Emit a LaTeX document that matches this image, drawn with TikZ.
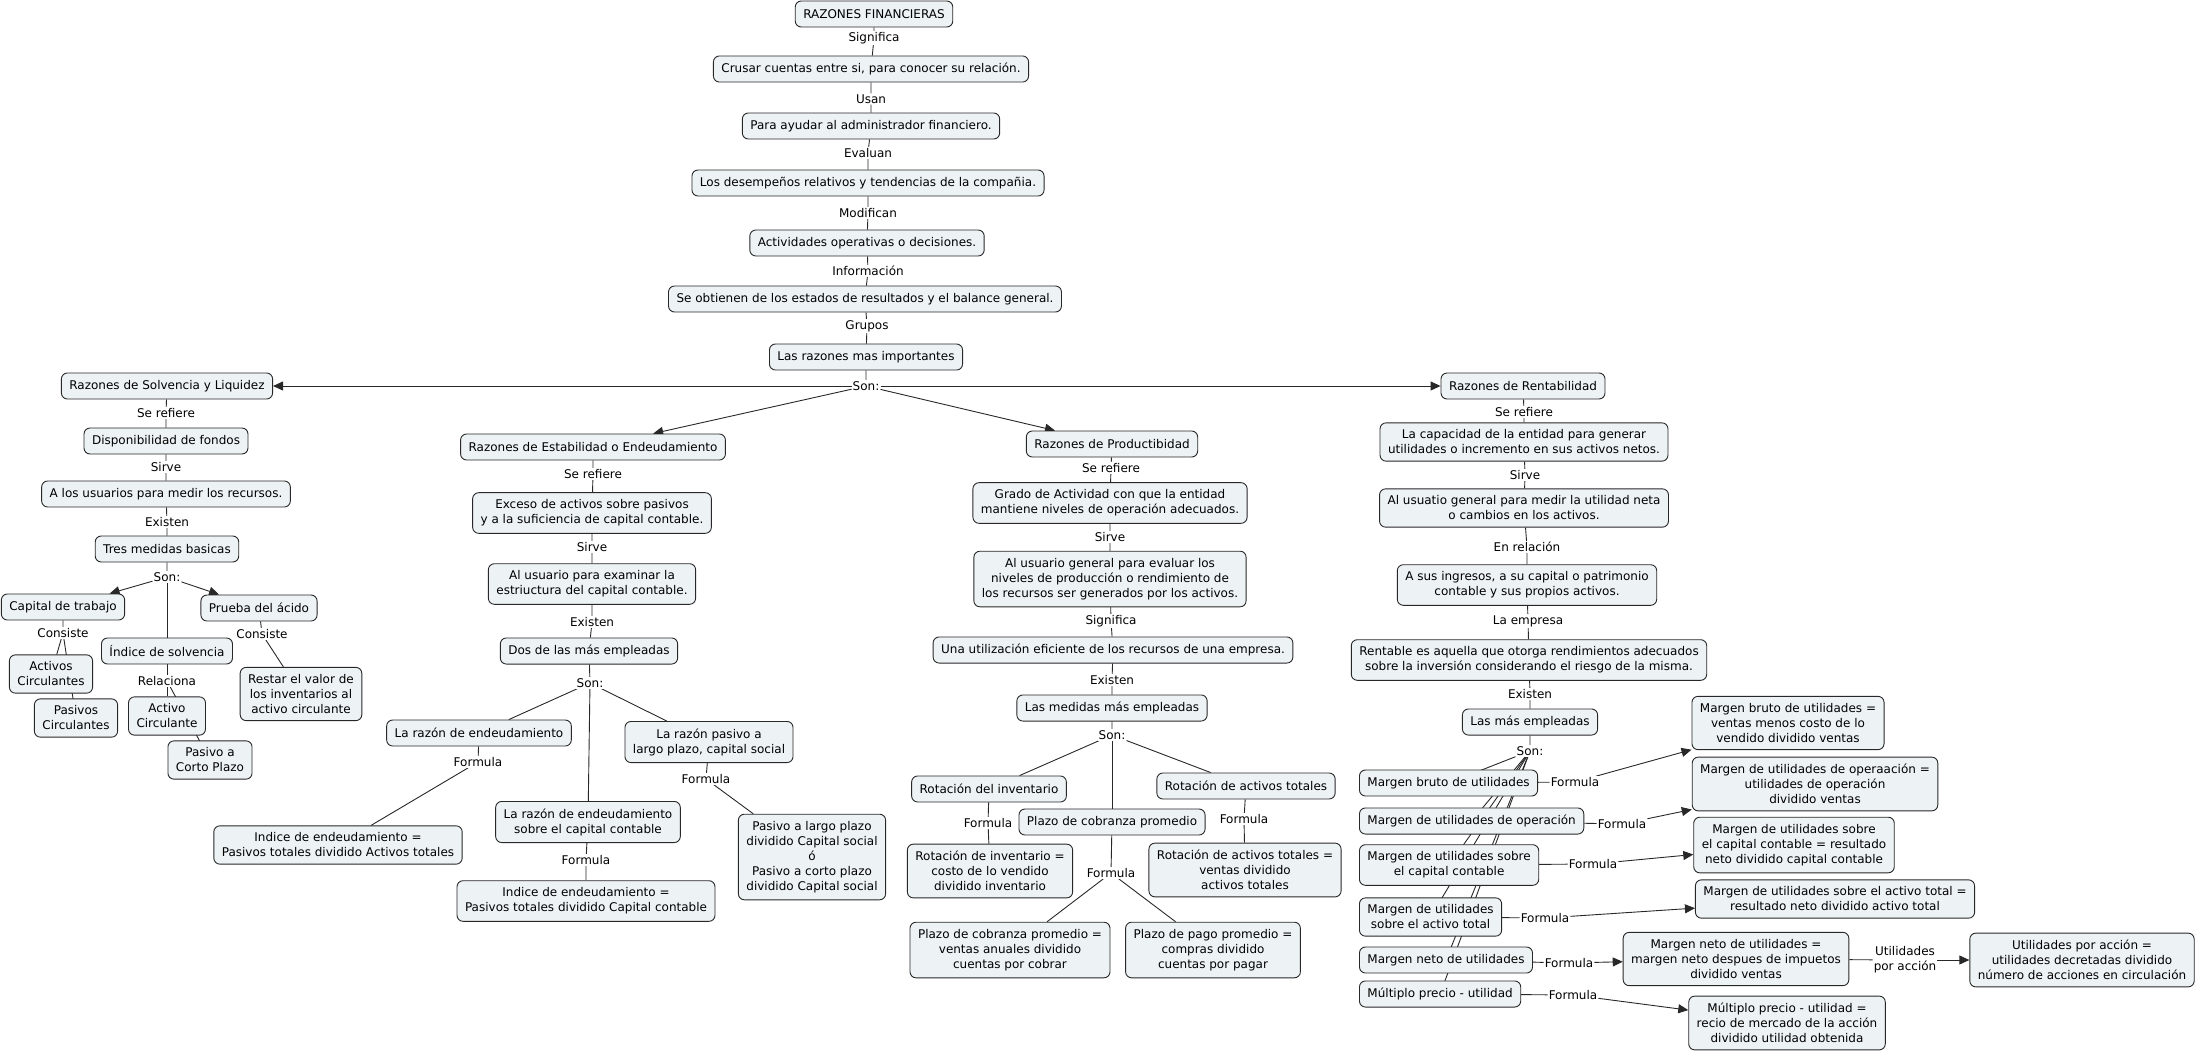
\documentclass[tikz,border=0pt]{standalone}
\usepackage{fontspec}
\setmainfont{DejaVu Sans}
\usepackage{tikz}
\usetikzlibrary{arrows.meta}
\usetikzlibrary{backgrounds}

\definecolor{boxfill}{RGB}{237,242,244}
\definecolor{boxline}{RGB}{40,40,40}
\tikzset{
  concept/.style={draw=boxline, fill=boxfill, rounded corners=6pt, align=center,
    inner xsep=8pt, inner ysep=7pt, minimum height=26pt, line width=0.9pt,
    font=\fontsize{12}{15}\selectfont},
  linkword/.style={fill=white, inner sep=1pt, align=center, font=\fontsize{12}{15}\selectfont},
  link/.style={draw=boxline, line width=0.9pt},
  arr/.style={link, -{Triangle[length=10pt,width=9pt]}}
}

\begin{document}
\begin{tikzpicture}[x=1pt, y=-1pt]
    \useasboundingbox (0,0) rectangle (2198,1052);
    % top
    \node[concept] (rf) at (874,14) {RAZONES FINANCIERAS};
    \node[linkword] (l1) at (874,38) {Significa};
    \node[concept] (n1) at (871,69) {Crusar cuentas entre si, para conocer su relación.};
    \node[linkword] (l2) at (871,99) {Usan};
    \node[concept] (n2) at (871,126) {Para ayudar al administrador financiero.};
    \node[linkword] (l3) at (868,153) {Evaluan};
    \node[concept] (n3) at (868,183) {Los desempeños relativos y tendencias de la compañia.};
    \node[linkword] (l4) at (868,213) {Modifican};
    \node[concept] (n4) at (867,243) {Actividades operativas o decisiones.};
    \node[linkword] (l5) at (868,271) {Información};
    \node[concept] (n5) at (865,299) {Se obtienen de los estados de resultados y el balance general.};
    \node[linkword] (l6) at (867,326) {Grupos};
    \node[concept] (n6) at (866,357) {Las razones mas importantes};
    \node[linkword] (son) at (866,386) {Son:};

    % solvencia y liquidez
    \node[concept] (sl) at (167,386) {Razones de Solvencia y Liquidez};
    \node[linkword] (sw1) at (166,413) {Se refiere};
    \node[concept] (df) at (166,441) {Disponibilidad de fondos};
    \node[linkword] (sw2) at (166,467) {Sirve};
    \node[concept] (au) at (166,494) {A los usuarios para medir los recursos.};
    \node[linkword] (sw3) at (167,522) {Existen};
    \node[concept] (tm) at (167,549) {Tres medidas basicas};
    \node[linkword] (sson) at (167,577) {Son:};
    \node[concept] (ct) at (63,607) {Capital de trabajo};
    \node[concept] (pa) at (259,608) {Prueba del ácido};
    \node[concept] (is) at (167,651) {Índice de solvencia};
    \node[linkword] (cons1) at (63,633) {Consiste};
    \node[linkword] (cons2) at (262,634) {Consiste};
    \node[concept] (acs) at (51,674) {Activos\\Circulantes};
    \node[concept] (pcs) at (76,718) {Pasivos\\Circulantes};
    \node[linkword] (rel) at (167,681) {Relaciona};
    \node[concept] (acir) at (167,716) {Activo\\Circulante};
    \node[concept] (pcp) at (210,760) {Pasivo a\\Corto Plazo};
    \node[concept] (res) at (301,694) {Restar el valor de\\los inventarios al\\activo circulante};

    % estabilidad
    \node[concept] (es) at (593,447) {Razones de Estabilidad o Endeudamiento};
    \node[linkword] (ew1) at (593,474) {Se refiere};
    \node[concept] (ex) at (592,513) {Exceso de activos sobre pasivos\\y a la suficiencia de capital contable.};
    \node[linkword] (ew2) at (592,547) {Sirve};
    \node[concept] (ae) at (592,584) {Al usuario para examinar la\\estriuctura del capital contable.};
    \node[linkword] (ew3) at (592,622) {Existen};
    \node[concept] (dm) at (589,651) {Dos de las más empleadas};
    \node[linkword] (eson) at (590,683) {Son:};
    \node[concept] (re) at (479,733) {La razón de endeudamiento};
    \node[concept] (rp) at (709,742) {La razón pasivo a\\largo plazo, capital social};
    \node[concept] (rc) at (588,822) {La razón de endeudamiento\\sobre el capital contable};
    \node[linkword] (ef1) at (478,762) {Formula};
    \node[linkword] (ef2) at (706,779) {Formula};
    \node[linkword] (ef3) at (586,860) {Formula};
    \node[concept] (ie1) at (338,845) {Indice de endeudamiento =\\Pasivos totales dividido Activos totales};
    \node[concept] (ie2) at (586,901) {Indice de endeudamiento =\\Pasivos totales dividido Capital contable};
    \node[concept] (plp) at (812,857) {Pasivo a largo plazo\\dividido Capital social\\ó\\Pasivo a corto plazo\\dividido Capital social};

    % productibidad
    \node[concept] (pr) at (1112,444) {Razones de Productibidad};
    \node[linkword] (pw1) at (1111,468) {Se refiere};
    \node[concept] (ga) at (1110,503) {Grado de Actividad con que la entidad\\mantiene niveles de operación adecuados.};
    \node[linkword] (pw2) at (1110,537) {Sirve};
    \node[concept] (ag) at (1110,579) {Al usuario general para evaluar los\\niveles de producción o rendimiento de\\los recursos ser generados por los activos.};
    \node[linkword] (pw3) at (1111,621) {Significa};
    \node[concept] (ue) at (1113,650) {Una utilización eficiente de los recursos de una empresa.};
    \node[linkword] (pw4) at (1112,680) {Existen};
    \node[concept] (mm) at (1112,708) {Las medidas más empleadas};
    \node[linkword] (pson) at (1112,735) {Son:};
    \node[concept] (ri) at (989,789) {Rotación del inventario};
    \node[concept] (ra) at (1246,786) {Rotación de activos totales};
    \node[concept] (pcb) at (1112,822) {Plazo de cobranza promedio};
    \node[linkword] (pf1) at (988,823) {Formula};
    \node[linkword] (pf2) at (1244,819) {Formula};
    \node[linkword] (pf3) at (1111,873) {Formula};
    \node[concept] (rif) at (990,871) {Rotación de inventario =\\costo de lo vendido\\dividido inventario};
    \node[concept] (raf) at (1245,870) {Rotación de activos totales =\\ventas dividido\\activos totales};
    \node[concept] (pcf) at (1010,950) {Plazo de cobranza promedio =\\ventas anuales dividido\\cuentas por cobrar};
    \node[concept] (ppf) at (1213,950) {Plazo de pago promedio =\\compras dividido\\cuentas por pagar};

    % rentabilidad
    \node[concept] (rr) at (1523,386) {Razones de Rentabilidad};
    \node[linkword] (rw1) at (1524,412) {Se refiere};
    \node[concept] (lc) at (1524,442) {La capacidad de la entidad para generar\\utilidades o incremento en sus activos netos.};
    \node[linkword] (rw2) at (1525,475) {Sirve};
    \node[concept] (ug) at (1524,508) {Al usuatio general para medir la utilidad neta\\o cambios en los activos.};
    \node[linkword] (rw3) at (1527,547) {En relación};
    \node[concept] (si) at (1527,585) {A sus ingresos, a su capital o patrimonio\\contable y sus propios activos.};
    \node[linkword] (rw4) at (1528,621) {La empresa};
    \node[concept] (rt) at (1529,660) {Rentable es aquella que otorga rendimientos adecuados\\sobre la inversión considerando el riesgo de la misma.};
    \node[linkword] (rw5) at (1530,694) {Existen};
    \node[concept] (me) at (1530,722) {Las más empleadas};
    \node[linkword] (rson) at (1530,751) {Son:};
    \node[concept, anchor=west] (mb) at (1359,783) {Margen bruto de utilidades};
    \node[concept, anchor=west] (mo) at (1359,821) {Margen de utilidades de operación};
    \node[concept, anchor=west] (mc) at (1359,865) {Margen de utilidades sobre\\el capital contable};
    \node[concept, anchor=west] (ma) at (1359,917) {Margen de utilidades\\sobre el activo total};
    \node[concept, anchor=west] (mn) at (1359,960) {Margen neto de utilidades};
    \node[concept, anchor=west] (mp) at (1359,994) {Múltiplo precio - utilidad};
    \node[linkword] (rf1) at (1575,782) {Formula};
    \node[linkword] (rf2) at (1622,824) {Formula};
    \node[linkword] (rf3) at (1593,864) {Formula};
    \node[linkword] (rf4) at (1545,918) {Formula};
    \node[linkword] (rf5) at (1569,963) {Formula};
    \node[linkword] (rf6) at (1573,995) {Formula};
    \node[concept] (mbf) at (1788,723) {Margen bruto de utilidades =\\ventas menos costo de lo\\vendido dividido ventas};
    \node[concept] (mof) at (1815,784) {Margen de utilidades de operaación =\\utilidades de operación\\dividido ventas};
    \node[concept] (mcf) at (1794,845) {Margen de utilidades sobre\\el capital contable = resultado\\neto dividido capital contable};
    \node[concept] (maf) at (1835,899) {Margen de utilidades sobre el activo total =\\resultado neto dividido activo total};
    \node[concept] (mnf) at (1736,959) {Margen neto de utilidades =\\margen neto despues de impuetos\\dividido ventas};
    \node[linkword] (upa) at (1905,960) {Utilidades\\por acción};
    \node[concept] (upf) at (2082,960) {Utilidades por acción =\\utilidades decretadas dividido\\número de acciones en circulación};
    \node[concept] (mpf) at (1787,1023) {Múltiplo precio - utilidad =\\recio de mercado de la acción\\dividido utilidad obtenida};

    \begin{pgfonlayer}{background}
    \draw[link] (rf) -- (l1) -- (n1) -- (l2) -- (n2) -- (l3) -- (n3) -- (l4) -- (n4)
        -- (l5) -- (n5) -- (l6) -- (n6) -- (son);
    \draw[arr] (son) -- (sl);
    \draw[arr] (son) -- (rr);
    \draw[arr] (son) -- (es);
    \draw[arr] (son) -- (pr);

    \draw[link] (sl) -- (sw1) -- (df) -- (sw2) -- (au) -- (sw3) -- (tm) -- (sson);
    \draw[arr] (sson) -- (ct);
    \draw[arr] (sson) -- (pa);
    \draw[link] (sson) -- (is);
    \draw[link] (ct) -- (cons1) -- (acs);
    \draw[link] (cons1) -- (pcs.center);
    \draw[link] (is) -- (rel) -- (acir);
    \draw[link] (rel) -- (pcp.center);
    \draw[link] (pa) -- (cons2) -- (res);

    \draw[link] (es) -- (ew1) -- (ex) -- (ew2) -- (ae) -- (ew3) -- (dm) -- (eson);
    \draw[link] (eson) -- (re);
    \draw[link] (eson) -- (rp);
    \draw[link] (eson) -- (rc);
    \draw[link] (re) -- (ef1) -- (ie1);
    \draw[link] (rp) -- (ef2) -- (plp);
    \draw[link] (rc) -- (ef3) -- (ie2);

    \draw[link] (pr) -- (pw1) -- (ga) -- (pw2) -- (ag) -- (pw3) -- (ue) -- (pw4) -- (mm) -- (pson);
    \draw[link] (pson) -- (ri);
    \draw[link] (pson) -- (ra);
    \draw[link] (pson) -- (pcb);
    \draw[link] (ri) -- (pf1) -- (rif);
    \draw[link] (ra) -- (pf2) -- (raf);
    \draw[link] (pcb) -- (pf3);
    \draw[link] (pf3) -- (pcf);
    \draw[link] (pf3) -- (ppf);

    \draw[link] (rr) -- (rw1) -- (lc) -- (rw2) -- (ug) -- (rw3) -- (si) -- (rw4) -- (rt) -- (rw5) -- (me) -- (rson);
    \foreach \m in {mb,mo,mc,ma,mn,mp}
        \draw[link] (rson) -- (\m.center);
    \draw[link] (mb) -- (rf1);
    \draw[link] (mo) -- (rf2);
    \draw[link] (mc) -- (rf3);
    \draw[link] (ma) -- (rf4);
    \draw[link] (mn) -- (rf5);
    \draw[link] (mp) -- (rf6);
    \draw[arr] (rf1) -- (mbf);
    \draw[arr] (rf2) -- (mof);
    \draw[arr] (rf3) -- (mcf);
    \draw[arr] (rf4) -- (maf);
    \draw[arr] (rf5) -- (mnf);
    \draw[arr] (rf6) -- (mpf);
    \draw[link] (mnf) -- (upa);
    \draw[arr] (upa) -- (upf);
    \end{pgfonlayer}
\end{tikzpicture}
\end{document}
